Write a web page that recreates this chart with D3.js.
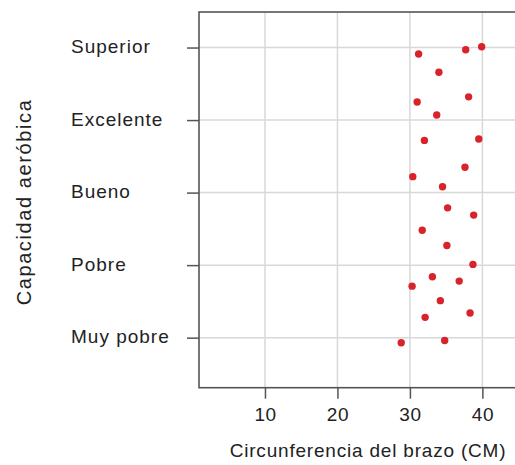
<!DOCTYPE html>
<html>
<head>
<meta charset="utf-8">
<script src="https://cdn.jsdelivr.net/npm/d3@7"></script>
<style>
  body { margin: 0; background: #fff; }
  svg { display: block; font-family: "Liberation Sans", Arial, sans-serif; }
</style>
</head>
<body>
<svg id="chart" width="515" height="465"></svg>
<script>
// niveles de capacidad aerobica (1 = Muy pobre ... 5 = Superior)
var niveles = ["Muy pobre", "Pobre", "Bueno", "Excelente", "Superior"];
var xTicks = [10, 20, 30, 40];

// circunferencia del brazo (cm) y posicion vertical (nivel + jitter)
var brazo = [39.9, 37.7, 31.2, 34.0, 38.1, 31.0, 33.7, 39.5, 32.0, 37.6, 30.4, 34.5,
             35.2, 38.8, 31.7, 35.1, 38.7, 33.1, 36.8, 30.3, 34.2, 38.3, 32.1, 34.8, 28.8];
var nivel = [5.01, 4.97, 4.91, 4.66, 4.32, 4.25, 4.07, 3.74, 3.72, 3.35, 3.22, 3.08,
             2.79, 2.69, 2.48, 2.27, 2.01, 1.84, 1.78, 1.71, 1.51, 1.34, 1.28, 0.96, 0.93];

(function () {
  var svg = d3.select("#chart");
  var mLeft = 199, mTop = 12, mBottom = 387.7, mRight = 515;

  var x = d3.scaleLinear().domain([0.9, 44.5]).range([mLeft, mRight]);
  var y = d3.scaleLinear().domain([0.31, 5.49]).range([mBottom, mTop]);

  // grid
  svg.append("g").selectAll("line")
    .data(xTicks)
    .enter().append("line")
    .attr("x1", d => x(d)).attr("x2", d => x(d))
    .attr("y1", mTop).attr("y2", mBottom)
    .attr("stroke", "#d8d8d8").attr("stroke-width", 1.5);

  svg.append("g").selectAll("line")
    .data(d3.range(1, 6))
    .enter().append("line")
    .attr("x1", mLeft).attr("x2", mRight + 10)
    .attr("y1", d => y(d)).attr("y2", d => y(d))
    .attr("stroke", "#d8d8d8").attr("stroke-width", 1.5);

  // frame
  svg.append("rect")
    .attr("x", mLeft).attr("y", mTop)
    .attr("width", mRight - mLeft + 20).attr("height", mBottom - mTop)
    .attr("fill", "none").attr("stroke", "#555").attr("stroke-width", 1.6);

  // axes
  var yAxis = svg.append("g")
    .attr("transform", `translate(${mLeft},0)`)
    .call(d3.axisLeft(y).tickValues(d3.range(1, 6))
      .tickFormat(d => niveles[d - 1]).tickSizeInner(12).tickSizeOuter(0));
  yAxis.select(".domain").remove();
  yAxis.selectAll("line").attr("stroke", "#555").attr("stroke-width", 1.5);
  yAxis.selectAll("text")
    .attr("x", 71 - mLeft).attr("dy", "0.26em")
    .attr("text-anchor", "start")
    .attr("fill", "#222").style("font-size", "19px").style("letter-spacing", "1px");

  var xAxis = svg.append("g")
    .attr("transform", `translate(0,${mBottom})`)
    .call(d3.axisBottom(x).tickValues(xTicks).tickSizeInner(11).tickSizeOuter(0).tickPadding(9));
  xAxis.select(".domain").remove();
  xAxis.selectAll("line").attr("stroke", "#555").attr("stroke-width", 1.5);
  xAxis.selectAll("text")
    .attr("fill", "#222").style("font-size", "19px").style("letter-spacing", "0.5px");

  // titles
  svg.append("text")
    .attr("x", 368).attr("y", 457)
    .attr("text-anchor", "middle")
    .attr("fill", "#222").style("font-size", "19px").style("letter-spacing", "0.8px")
    .text("Circunferencia del brazo (CM)");

  svg.append("text")
    .attr("transform", "translate(31,202) rotate(-90)")
    .attr("text-anchor", "middle")
    .attr("fill", "#222").style("font-size", "20px").style("letter-spacing", "1.6px")
    .text("Capacidad aeróbica");

  // puntos
  svg.append("g").selectAll("circle")
    .data(brazo.map((b, i) => ({ b: b, n: nivel[i] })))
    .enter().append("circle")
    .attr("cx", d => x(d.b))
    .attr("cy", d => y(d.n))
    .attr("r", 3.7)
    .attr("fill", "#d8232a");
})();
</script>
</body>
</html>
